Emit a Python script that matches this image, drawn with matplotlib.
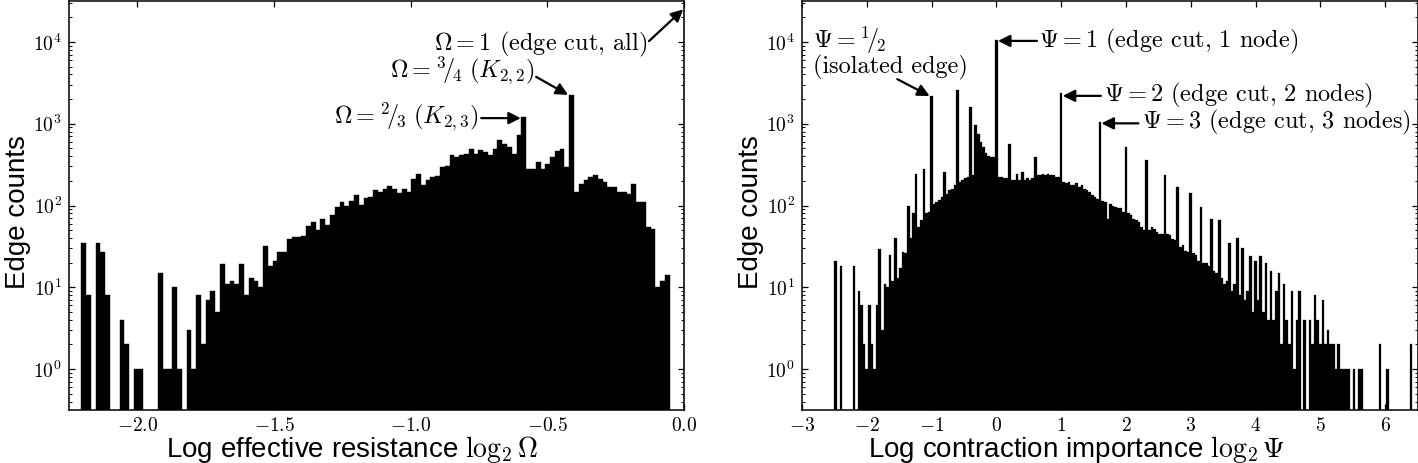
import numpy as np
import matplotlib
matplotlib.use("Agg")
import matplotlib.pyplot as plt
from matplotlib.ticker import FixedLocator, FuncFormatter, LogLocator, NullFormatter

# -----------------------------
# Data
# -----------------------------
# Left: histogram of log2 effective resistance, bins of equal width ending at 0;
# the last bin [0, w) holds the Omega = 1 edges (off the visible range).
res_bin_width = 0.0175
res_counts = [
    35, 8, 0, 35, 27, 8, 0, 0, 4, 2, 0, 1, 1, 0, 0, 0, 15, 1, 1, 10,
    1, 0, 3, 1, 8, 2, 7, 9, 5, 19, 11, 12, 11, 19, 8, 13, 12, 10, 32,
    18, 21, 27, 27, 39, 41, 41, 42, 56, 63, 50, 68, 57, 76, 95, 110, 99,
    112, 136, 102, 125, 127, 154, 147, 158, 172, 161, 143, 161, 147, 210,
    241, 180, 204, 224, 230, 296, 305, 411, 392, 411, 430, 487, 430,
    473, 452, 411, 496, 640, 570, 520, 430, 720, 1200, 280, 280, 340, 280,
    325, 390, 470, 487, 295, 2250, 146, 185, 203, 223, 233, 212, 194, 170,
    170, 146, 146, 140, 185, 110, 110, 55, 52, 10, 12, 14,
    0, 0, 0,
    26000,
]

# Right: histogram of log2 contraction importance, one row per unit of x
imp_first_edge = -2.54
imp_bin_width = 0.04
imp_counts = [
    # -2.52 .. -1.56
    0, 21, 0, 18, 0, 0, 0, 0, 18, 0, 9, 6, 2, 1, 6, 2, 1, 6, 29, 3, 11, 10, 25, 12, 40,
    # -1.52 .. -0.56
    13, 17, 27, 26, 98, 40, 80, 245, 55, 66, 280, 80, 84, 2180, 105, 110, 118, 127, 255,
    140, 155, 160, 177, 2560, 195,
    # -0.52 .. 0.44
    205, 215, 224, 1600, 235, 970, 750, 600, 520, 440, 400, 390, 390, 10500, 224, 224,
    215, 215, 560, 205, 205, 245, 205, 255, 205,
    # 0.48 .. 1.44
    215, 205, 215, 390, 235, 235, 245, 235, 245, 235, 235, 224, 224, 2400, 195, 190, 195,
    178, 178, 186, 170, 178, 160, 155, 147,
    # 1.48 .. 2.44
    133, 127, 121, 1050, 115, 110, 69, 105, 100, 96, 92, 92, 84, 520, 80, 76, 69, 66, 63,
    55, 50, 360, 50, 55, 52,
    # 2.48 .. 3.44
    48, 45, 45, 235, 45, 43, 39, 38, 170, 31, 33, 28, 27, 142, 26, 25, 21, 96, 20, 20, 18,
    69, 16, 15, 66,
    # 3.48 .. 4.44
    13, 11, 12, 35, 9, 11, 40, 8, 30, 7, 9, 24, 5, 21, 7, 24, 5, 20, 4, 16, 4, 9, 15, 2, 11,
    # 4.48 .. 5.44
    4, 2, 9, 1, 4, 9, 0, 4, 0, 4, 2, 8, 4, 2, 7, 2, 3, 2, 2, 1, 2, 1, 1, 1, 1,
    # 5.48 .. 6.44
    0, 1, 0, 1, 1, 0, 0, 0, 0, 0, 0, 2, 0, 0, 1, 0, 0, 0, 0, 0, 0, 0, 0, 2, 0,
]

res_ticks = [-2.0, -1.5, -1.0, -0.5, 0.0]
imp_ticks = [-3, -2, -1, 0, 1, 2, 3, 4, 5, 6]
count_ticks = [1, 10, 100, 1000, 10000]

# -----------------------------
# Style
# -----------------------------
plt.rcParams["mathtext.fontset"] = "cm"
plt.rcParams["axes.linewidth"] = 1.1

serif = "cmr10"
sans = "Liberation Sans"
ann_size = 17.5
tick_size = 14
label_size = 20

arrow = dict(arrowstyle="-|>", color="black", lw=1.6, mutation_scale=18,
             shrinkA=0, shrinkB=0)

fig = plt.figure(figsize=(14.18, 4.63), dpi=100)
ax1 = fig.add_axes([69 / 1418, 53 / 463, 615 / 1418, 409 / 463])
ax2 = fig.add_axes([802 / 1418, 53 / 463, 615.5 / 1418, 409 / 463])


def style_axes(ax):
    ax.set_yscale("log")
    ax.set_ylim(10 ** -0.5, 10 ** 4.5)
    ax.yaxis.set_major_locator(FixedLocator(count_ticks))
    ax.yaxis.set_major_formatter(FuncFormatter(lambda v, p: r"$10^{%d}$" % round(np.log10(v))))
    ax.yaxis.set_minor_locator(LogLocator(base=10, subs=np.arange(2, 10)))
    ax.yaxis.set_minor_formatter(NullFormatter())
    ax.tick_params(which="both", direction="in", top=True, right=True)
    ax.tick_params(which="major", length=4, width=0.9, labelsize=tick_size, pad=5)
    ax.tick_params(axis="x", which="major", pad=4)
    ax.tick_params(which="minor", length=2, width=0.7)
    ax.set_ylabel("Edge counts", fontsize=label_size, fontfamily=sans)
    ax.yaxis.set_label_coords(-0.062, 0.485)


# -----------------------------
# Left: effective resistance
# -----------------------------
res_edges = res_bin_width * np.arange(-126, 1)
ax1.bar(res_edges, res_counts, width=res_bin_width, align="edge",
        color="black", edgecolor="black", linewidth=0.3)
style_axes(ax1)
ax1.set_xlim(-2.25, 0.0)
ax1.xaxis.set_major_locator(FixedLocator(res_ticks))
ax1.xaxis.set_major_formatter(FuncFormatter(lambda v, p: "$%.1f$" % v))
ax1.set_xlabel(r"Log effective resistance $\log_2\Omega$", fontsize=label_size, fontfamily=sans)
ax1.xaxis.set_label_coords(0.46, -0.058)

ax1.text(-0.135, 10 ** 3.9, r"$\Omega = 1$ (edge cut, all)", ha="right", va="baseline",
         fontsize=ann_size, fontfamily=serif)
ax1.annotate("", xy=(-0.003, 25000), xytext=(-0.128, 10 ** 4.01), arrowprops=arrow,
             annotation_clip=False)

ax1.text(-0.545, 10 ** 3.56, r"$\Omega = {}^3\!/\!_4\ (K_{2,2})$", ha="right", va="baseline",
         fontsize=ann_size, fontfamily=serif)
ax1.annotate("", xy=(-0.424, 2250), xytext=(-0.541, 10 ** 3.573), arrowprops=arrow)

ax1.text(-0.75, 10 ** 2.99, r"$\Omega = {}^2\!/\!_3\ (K_{2,3})$", ha="right", va="baseline",
         fontsize=ann_size, fontfamily=serif)
ax1.annotate("", xy=(-0.597, 1170), xytext=(-0.742, 1170), arrowprops=arrow)

# -----------------------------
# Right: contraction importance
# -----------------------------
imp_edges = imp_first_edge + imp_bin_width * np.arange(len(imp_counts))
ax2.bar(imp_edges, imp_counts, width=imp_bin_width, align="edge",
        color="black", edgecolor="black", linewidth=0.2)
style_axes(ax2)
ax2.set_xlim(-3, 6.5)
ax2.xaxis.set_major_locator(FixedLocator(imp_ticks))
ax2.xaxis.set_major_formatter(FuncFormatter(lambda v, p: "$%d$" % v))
ax2.set_xlabel(r"Log contraction importance $\log_2\Psi$", fontsize=label_size, fontfamily=sans)
ax2.xaxis.set_label_coords(0.446, -0.058)

ax2.text(-2.835, 10 ** 3.93, r"$\Psi = {}^1\!/\!_2$", ha="left", va="baseline",
         fontsize=ann_size, fontfamily=serif)
ax2.text(-2.835, 10 ** 3.62, "(isolated edge)", ha="left", va="baseline",
         fontsize=ann_size, fontfamily=serif)
ax2.annotate("", xy=(-1.03, 2180), xytext=(-1.53, 10 ** 3.545), arrowprops=arrow)

ax2.text(0.652, 10 ** 3.93, r"$\Psi = 1$ (edge cut, 1 node)", ha="left", va="baseline",
         fontsize=ann_size, fontfamily=serif)
ax2.annotate("", xy=(0.025, 10280), xytext=(0.627, 10280), arrowprops=arrow)

ax2.text(1.664, 10 ** 3.27, r"$\Psi = 2$ (edge cut, 2 nodes)", ha="left", va="baseline",
         fontsize=ann_size, fontfamily=serif)
ax2.annotate("", xy=(1.025, 2190), xytext=(1.613, 2190), arrowprops=arrow)

ax2.text(2.25, 10 ** 2.94, r"$\Psi = 3$ (edge cut, 3 nodes)", ha="left", va="baseline",
         fontsize=ann_size, fontfamily=serif)
ax2.annotate("", xy=(1.622, 1010), xytext=(2.193, 1010), arrowprops=arrow)

fig.savefig("out.png", dpi=100)
